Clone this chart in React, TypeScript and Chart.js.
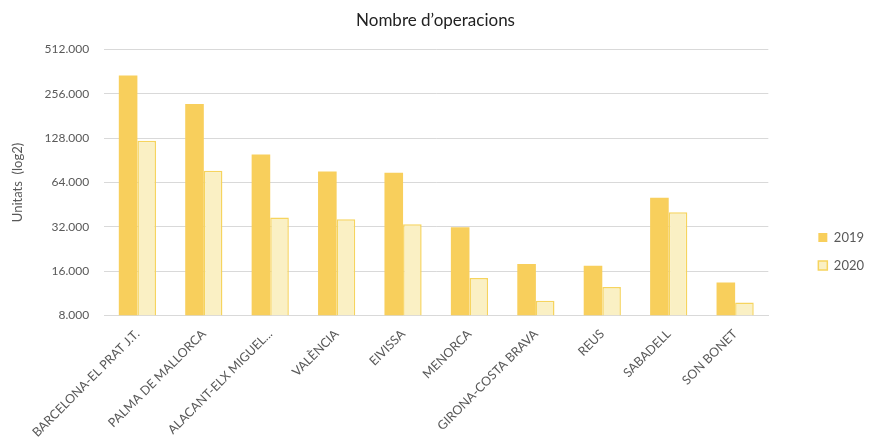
import React, { useEffect, useRef } from "react";
import { Chart, registerables } from "chart.js";

Chart.register(...registerables);

const categories = [
  "BARCELONA-EL PRAT J.T.",
  "PALMA DE MALLORCA",
  "ALACANT-ELX MIGUEL...",
  "VALÈNCIA",
  "EIVISSA",
  "MENORCA",
  "GIRONA-COSTA BRAVA",
  "REUS",
  "SABADELL",
  "SON BONET",
];
const values2019 = [340000, 218000, 99000, 76000, 74500, 31800, 17900, 17400, 50500, 13400];
const values2020 = [123000, 77000, 37000, 36000, 33300, 14400, 10100, 12500, 40200, 9800];
const tickValues = [8000, 16000, 32000, 64000, 128000, 256000, 512000];

const fmt = (v: number) => v.toLocaleString("de-DE");

const LEGEND_EXTRA_W = 26;
const LEGEND_DX = 35;
const LEGEND_DY = 28;

const legendShift = {
  id: "legendShift",
  beforeUpdate(chart: any) {
    const lg = chart.legend;
    if (!lg || lg.__patched) return;
    lg.__patched = true;
    const origFit = lg.fit.bind(lg);
    lg.fit = function () {
      origFit();
      this.width += LEGEND_EXTRA_W;
    };
    const origDraw = lg.draw.bind(lg);
    lg.draw = function () {
      const ctx = chart.ctx;
      ctx.save();
      ctx.translate(LEGEND_DX, LEGEND_DY);
      origDraw();
      ctx.restore();
    };
  },
};

export default function App() {
  const ref = useRef<HTMLCanvasElement | null>(null);
  useEffect(() => {
    document.body.style.margin = "0";
    if (!ref.current) return;
    const chart = new Chart(ref.current, {
      type: "bar",
      data: {
        labels: categories,
        datasets: [
          {
            label: "2019",
            data: values2019,
            backgroundColor: "#F8CF5C",
            borderColor: "#F8CF5C",
            borderWidth: 0,
          },
          {
            label: "2020",
            data: values2020,
            backgroundColor: "#FAF0C4",
            borderColor: "#F6D45E",
            borderWidth: 1.5,
          },
        ],
      },
      options: {
        animation: false,
        responsive: false,
        layout: { padding: { left: 6, right: 4, top: 4, bottom: 0 } },
        datasets: { bar: { categoryPercentage: 0.56, barPercentage: 1 } },
        plugins: {
          title: {
            display: true,
            text: "Nombre d’operacions",
            color: "#222",
            font: { family: "Lato", size: 17, weight: "normal" },
            padding: { top: 6, bottom: 19 },
          },
          legend: {
            position: "right",
            labels: {
              boxWidth: 9,
              boxHeight: 9,
              color: "#595959",
              font: { family: "Lato", size: 13 },
              padding: 15,
            },
          },
          tooltip: { enabled: false },
        },
        scales: {
          x: {
            grid: { display: false },
            border: { color: "#D9D9D9" },
            ticks: {
              color: "#595959",
              font: { family: "Lato", size: 12.5 },
              maxRotation: 45,
              minRotation: 45,
              autoSkip: false,
            },
          },
          y: {
            type: "logarithmic",
            min: 8000,
            max: 512000,
            afterBuildTicks: (axis: any) => {
              axis.ticks = tickValues.map((v) => ({ value: v }));
            },
            grid: { color: "#D9D9D9", drawTicks: false },
            border: { display: false },
            ticks: {
              color: "#595959",
              font: { family: "Lato", size: 12 },
              padding: 15,
              callback: (v: any) => fmt(Number(v)),
            },
            title: {
              display: true,
              text: "Unitats  (log2)",
              color: "#595959",
              font: { family: "Lato", size: 13 },
            },
          },
        },
      },
      plugins: [legendShift],
    });
    return () => chart.destroy();
  }, []);
  return <canvas ref={ref} width={869} height={443} />;
}
